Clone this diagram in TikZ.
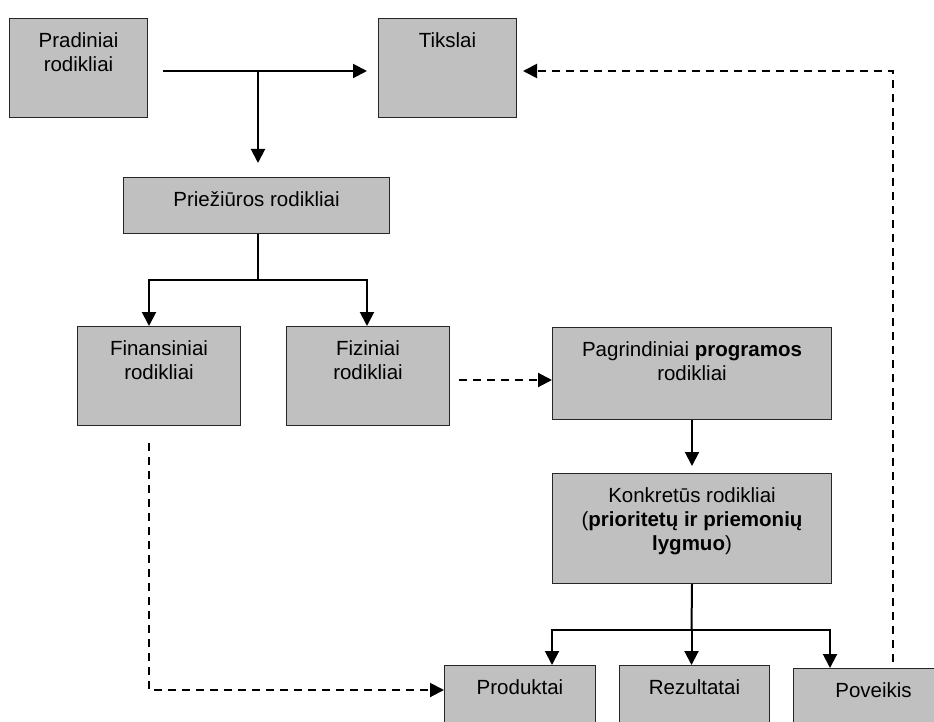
\documentclass[tikz,border=0pt]{standalone}
\usepackage{fontspec}
\setmainfont{Liberation Sans}
\usetikzlibrary{arrows.meta}
\definecolor{boxgray}{HTML}{C0C0C0}
\begin{document}
\begin{tikzpicture}[x=1pt,y=-1pt,
  box/.style={draw=black!85, line width=1pt, fill=boxgray, inner sep=0pt,
    anchor=north west},
  txt/.style={anchor=north, inner sep=0pt, align=center,
    font=\fontsize{20.5pt}{24pt}\selectfont},
  plain/.style={line width=2pt},
  conn/.style={line width=2pt, -{Triangle[length=14pt,width=14pt]}},
  dconn/.style={conn, dash pattern=on 8pt off 6pt},
]
\useasboundingbox (0,0) rectangle (934,722);
\clip (0,0) rectangle (934,722);

% boxes
\node[box, minimum width=138pt, minimum height=99pt]  (pra) at (9,18) {};
\node[box, minimum width=138pt, minimum height=99pt]  (tik) at (378,18) {};
\node[box, minimum width=266pt, minimum height=56pt]  (prz) at (123,177) {};
\node[box, minimum width=163pt, minimum height=99pt]  (fin) at (77,326) {};
\node[box, minimum width=163pt, minimum height=99pt]  (fiz) at (286,326) {};
\node[box, minimum width=279pt, minimum height=92pt]  (pag) at (552,327) {};
\node[box, minimum width=279pt, minimum height=110pt] (kon) at (552,473) {};
\node[box, minimum width=151pt, minimum height=80pt]  (pro) at (444,665) {};
\node[box, minimum width=150pt, minimum height=80pt]  (rez) at (619,665) {};
\node[box, minimum width=160pt, minimum height=80pt]  (pov) at (793,668) {};

% box texts (first baseline 29pt below the top edge)
\newcommand{\topline}{\rule{0pt}{20pt}}
\node[txt] (pra-t) at ([yshift=-9pt]pra.north) {\topline Pradiniai\\rodikliai};
\node[txt] (tik-t) at ([yshift=-9pt]tik.north) {\topline Tikslai};
\node[txt] (prz-t) at ([yshift=-9pt]prz.north) {\topline Priežiūros rodikliai};
\node[txt] (fin-t) at ([yshift=-9pt]fin.north) {\topline Finansiniai\\rodikliai};
\node[txt] (fiz-t) at ([yshift=-9pt]fiz.north) {\topline Fiziniai\\rodikliai};
\node[txt] (pag-t) at ([yshift=-9pt]pag.north) {\topline Pagrindiniai \textbf{programos}\\rodikliai};
\node[txt] (kon-t) at ([yshift=-9pt]kon.north) {\topline Konkretūs rodikliai\\(\textbf{prioritetų ir priemonių}\\\textbf{lygmuo})};
\node[txt] (pro-t) at ([yshift=-9pt]pro.north) {\topline Produktai};
\node[txt] (rez-t) at ([yshift=-9pt]rez.north) {\topline Rezultatai};
\node[txt] (pov-t) at ([yshift=-9pt]pov.north) {\topline Poveikis};

% junction and bend points
\coordinate (s1) at (163,71);
\coordinate (j1) at (258,71);
\coordinate (j2) at (258,280);
\coordinate (bL) at (149,280);
\coordinate (bR) at (367,280);
\coordinate (s2) at (459,380);
\coordinate (j3) at (691.5,630);
\coordinate (bL2) at (552,630);
\coordinate (bR2) at (830,630);
\coordinate (s3) at (149,443);
\coordinate (k3) at (149,690);
\coordinate (s4) at (893,662);
\coordinate (k4) at (893,71);

% solid connectors
\draw[conn, shorten >=11pt] (s1) -- (s1 -| tik.west);
\draw[conn, shorten >=14pt] (j1) -- (j1 |- prz.north);
\draw[plain] (j2 |- prz.south) -- (j2);
\draw[conn] (j2) -- (bL) -- (bL |- fin.north);
\draw[conn] (j2) -- (bR) -- (bR |- fiz.north);
\draw[conn, shorten >=7pt] (pag.south) -- (kon.north);
\draw[plain] (kon.south) -- (j3);
\draw[conn] (j3) -- (bL2) -- (bL2 |- pro.north);
\draw[conn] (j3) -- (j3 |- rez.north);
\draw[conn] (j3) -- (bR2) -- (bR2 |- pov.north);

% dashed connectors
\draw[dconn] (s2) -- (s2 -| pag.west);
\draw[dconn] (s3) -- (k3) -- (k3 -| pro.west);
\draw[dconn, shorten >=6pt] (s4) -- (k4) -- (k4 -| tik.east);
\end{tikzpicture}
\end{document}
